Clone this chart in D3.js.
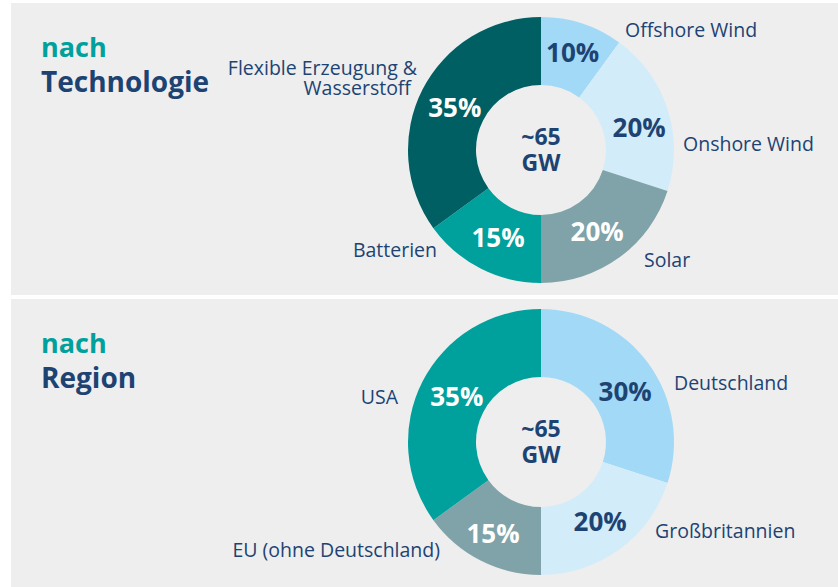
<!DOCTYPE html>
<html>
<head>
<meta charset="utf-8">
<script src="https://cdn.jsdelivr.net/npm/d3@7"></script>
<style>
  body { margin: 0; background: #ffffff; }
  svg { display: block; font-family: "Open Sans", sans-serif; }
</style>
</head>
<body>
<svg id="chart" width="838" height="587"></svg>
<script>
// data - share of ~65 GW
var techNames = ["Offshore Wind", "Onshore Wind", "Solar", "Batterien", "Flexible Erzeugung & Wasserstoff"];
var techValues = [10, 20, 20, 15, 35];
var regionNames = ["Deutschland", "Großbritannien", "EU (ohne Deutschland)", "USA"];
var regionValues = [30, 20, 15, 35];
var totalLabel = ["~65", "GW"];

var techColours = ["#a2d9f7", "#d3ecfa", "#7fa3a8", "#00a19d", "#005f63"];
var regionColours = ["#a2d9f7", "#d3ecfa", "#7fa3a8", "#00a19d"];
var techPctDark = [true, true, false, false, false];
var regionPctDark = [true, true, false, false];

var navy = "#1d4373";
var teal = "#00a19d";
var panelBg = "#eeeeee";

// outer label placement, relative to donut center (lines for multi-line labels)
var techLabelPos = [
    {x: 84, y: -113, anchor: "start", lines: ["Offshore Wind"]},
    {x: 142, y: 1, anchor: "start", lines: ["Onshore Wind"]},
    {x: 103, y: 117, anchor: "start", lines: ["Solar"]},
    {x: -104, y: 107, anchor: "end", lines: ["Batterien"]},
    {x: -124, y: -75, anchor: "end", lines: ["Flexible Erzeugung &", "Wasserstoff"]}
];
var regionLabelPos = [
    {x: 133, y: -52, anchor: "start", lines: ["Deutschland"]},
    {x: 114, y: 96, anchor: "start", lines: ["Großbritannien"]},
    {x: -101, y: 115, anchor: "end", lines: ["EU (ohne Deutschland)"]},
    {x: -143, y: -38, anchor: "end", lines: ["USA"]}
];
// small nudges for the percentage labels (px)
var techPctNudge = [[1, -3], [4, 8], [-2, 2], [2, -1], [2, 3]];
var regionPctNudge = [[4, 8], [1, 0], [-3, 3], [4, 0]];

const svg = d3.select("#chart");
const outerR = 133, innerR = 65;

function drawPanel(y0, h, titleTop, names, values, colours, pctDark, labelPos, nudge, cy) {
    var g = svg.append("g");
    g.append("rect")
        .attr("x", 11).attr("y", y0)
        .attr("width", 838 - 11).attr("height", h)
        .attr("fill", panelBg);

    g.append("text")
        .attr("x", 41).attr("y", y0 + 54)
        .attr("fill", teal)
        .attr("font-size", 27).attr("font-weight", 700)
        .text("nach");
    g.append("text")
        .attr("x", 41).attr("y", y0 + 89)
        .attr("fill", navy)
        .attr("font-size", 28).attr("font-weight", 700)
        .text(titleTop);

    var cx = 541;
    var donut = g.append("g").attr("transform", "translate(" + cx + "," + cy + ")");

    var pie = d3.pie().sort(null).value(d => d.value);
    var arc = d3.arc().innerRadius(innerR).outerRadius(outerR);
    var labelArc = d3.arc().innerRadius(99).outerRadius(99);

    var data = names.map((n, i) => ({name: n, value: values[i], colour: colours[i], dark: pctDark[i], nudge: nudge[i]}));
    var arcs = pie(data);

    donut.selectAll(".slice")
        .data(arcs)
        .enter().append("path")
        .attr("class", "slice")
        .attr("d", arc)
        .attr("fill", d => d.data.colour);

    donut.selectAll(".pct")
        .data(arcs)
        .enter().append("text")
        .attr("class", "pct")
        .attr("transform", d => {
            var c = labelArc.centroid(d);
            return "translate(" + (c[0] + d.data.nudge[0]) + "," + (c[1] + d.data.nudge[1]) + ")";
        })
        .attr("text-anchor", "middle")
        .attr("dy", "0.36em")
        .attr("font-size", 26).attr("font-weight", 700)
        .attr("fill", d => d.data.dark ? navy : "#ffffff")
        .text(d => d.data.value + "%");

    donut.selectAll(".total")
        .data(totalLabel)
        .enter().append("text")
        .attr("class", "total")
        .attr("text-anchor", "middle")
        .attr("x", 0)
        .attr("y", (d, i) => -5 + i * 26)
        .attr("font-size", 23).attr("font-weight", 700)
        .attr("fill", navy)
        .text(d => d);

    // outer category labels
    labelPos.forEach(function (lp) {
        var t = donut.append("text")
            .attr("text-anchor", lp.anchor)
            .attr("fill", navy)
            .attr("font-size", 19.5);
        lp.lines.forEach(function (line, i) {
            t.append("tspan")
                .attr("x", lp.x - (i > 0 ? 6 : 0))
                .attr("y", lp.y + i * 20)
                .text(line);
        });
    });
}

drawPanel(3, 292, "Technologie", techNames, techValues, techColours, techPctDark, techLabelPos, techPctNudge, 150);
drawPanel(299, 288, "Region", regionNames, regionValues, regionColours, regionPctDark, regionLabelPos, regionPctNudge, 442);
</script>
</body>
</html>
